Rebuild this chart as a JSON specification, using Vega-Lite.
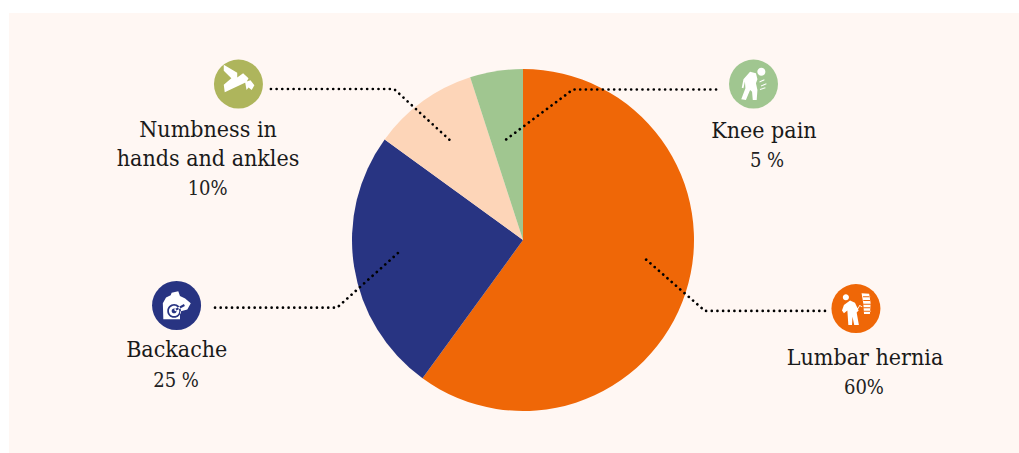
{
  "$schema": "https://vega.github.io/schema/vega-lite/v6.json",
  "width": 1019,
  "height": 453,
  "padding": 0,
  "autosize": {"type": "fit", "contains": "padding"},
  "background": "#FFFFFF",
  "config": {"view": {"stroke": null}, "axis": {"disable": true}},
  "datasets": {
    "slices": [
      {"condition": "Lumbar hernia", "share": 60, "rank": 1},
      {"condition": "Backache", "share": 25, "rank": 2},
      {"condition": "Numbness in hands and ankles", "share": 10, "rank": 3},
      {"condition": "Knee pain", "share": 5, "rank": 4}
    ],
    "callouts": [
      {"condition": "Lumbar hernia", "name": "Lumbar hernia", "shareText": "60%", "iconX": 1.947, "iconY": -0.401, "nameX": 2.0, "nameY": -0.731, "shareX": 1.994, "shareY": -0.901},
      {"condition": "Backache", "name": "Backache", "shareText": "25 %", "iconX": -2.026, "iconY": -0.383, "nameX": -2.025, "nameY": -0.684, "shareX": -2.029, "shareY": -0.86},
      {"condition": "Numbness in hands and ankles", "name": "Numbness in\nhands and ankles", "shareText": "10%", "iconX": -1.664, "iconY": 0.912, "nameX": -1.842, "nameY": 0.602, "shareX": -1.844, "shareY": 0.263},
      {"condition": "Knee pain", "name": "Knee pain", "shareText": "5 %", "iconX": 1.348, "iconY": 0.912, "nameX": 1.409, "nameY": 0.596, "shareX": 1.427, "shareY": 0.427}
    ],
    "leaders": [
      {"condition": "Numbness in hands and ankles", "step": 1, "x": -1.474, "y": 0.883},
      {"condition": "Numbness in hands and ankles", "step": 2, "x": -0.754, "y": 0.883},
      {"condition": "Numbness in hands and ankles", "step": 3, "x": -0.411, "y": 0.569},
      {"condition": "Knee pain", "step": 1, "x": 1.129, "y": 0.88},
      {"condition": "Knee pain", "step": 2, "x": 0.292, "y": 0.88},
      {"condition": "Knee pain", "step": 3, "x": -0.123, "y": 0.57},
      {"condition": "Backache", "step": 1, "x": -1.801, "y": -0.396},
      {"condition": "Backache", "step": 2, "x": -1.088, "y": -0.396},
      {"condition": "Backache", "step": 3, "x": -0.731, "y": -0.076},
      {"condition": "Lumbar hernia", "step": 1, "x": 1.766, "y": -0.415},
      {"condition": "Lumbar hernia", "step": 2, "x": 1.064, "y": -0.415},
      {"condition": "Lumbar hernia", "step": 3, "x": 0.709, "y": -0.105}
    ]
  },
  "layer": [
    {
      "description": "Tinted panel behind the chart; coordinates are in pie radii from the pie centre",
      "data": {"values": [{"left": -3.0058, "right": 2.9006, "top": 1.3275, "bottom": -1.2456}]},
      "mark": {"type": "rect", "fill": "#FFF7F3"},
      "encoding": {
        "x": {"field": "left", "type": "quantitative", "axis": null, "scale": {"domain": [-3.0585, 2.9006], "nice": false, "zero": false}},
        "x2": {"field": "right"},
        "y": {"field": "top", "type": "quantitative", "axis": null, "scale": {"domain": [-1.2456, 1.4035], "nice": false, "zero": false}},
        "y2": {"field": "bottom"}
      }
    },
    {
      "data": {"name": "slices"},
      "mark": {"type": "arc", "outerRadius": 171, "stroke": null},
      "encoding": {
        "x": {"datum": 0, "type": "quantitative"},
        "y": {"datum": 0, "type": "quantitative"},
        "theta": {"field": "share", "type": "quantitative", "stack": true},
        "order": {"field": "rank", "type": "ordinal"},
        "color": {
          "field": "condition",
          "type": "nominal",
          "legend": null,
          "scale": {
            "domain": ["Lumbar hernia", "Backache", "Numbness in hands and ankles", "Knee pain"],
            "range": ["#EF6707", "#283482", "#FDD5B8", "#A0C690"]
          }
        }
      }
    },
    {
      "description": "Dotted leader lines from each slice to its icon",
      "data": {"name": "leaders"},
      "mark": {"type": "line", "stroke": "#000000", "strokeWidth": 2.7, "strokeCap": "round", "strokeDash": [0.01, 5.65], "clip": false},
      "encoding": {
        "x": {"field": "x", "type": "quantitative"},
        "y": {"field": "y", "type": "quantitative"},
        "detail": {"field": "condition"},
        "order": {"field": "step", "type": "ordinal"}
      }
    },
    {
      "data": {"name": "callouts"},
      "mark": {"type": "point", "filled": true, "shape": "circle", "size": 2401, "opacity": 1},
      "encoding": {
        "x": {"field": "iconX", "type": "quantitative"},
        "y": {"field": "iconY", "type": "quantitative"},
        "fill": {
          "field": "condition",
          "type": "nominal",
          "legend": null,
          "scale": {
            "domain": ["Lumbar hernia", "Backache", "Numbness in hands and ankles", "Knee pain"],
            "range": ["#EF6707", "#283482", "#AEB55C", "#A0C690"]
          }
        }
      }
    },
    {
      "description": "White pictograms drawn in the unit square of each icon disc",
      "data": {"name": "callouts"},
      "mark": {"type": "point", "filled": true, "size": 2401, "opacity": 1, "fill": "#FFFFFF", "strokeWidth": 0},
      "encoding": {
        "x": {"field": "iconX", "type": "quantitative"},
        "y": {"field": "iconY", "type": "quantitative"},
        "shape": {
          "field": "condition",
          "type": "nominal",
          "legend": null,
          "scale": {
            "domain": ["Lumbar hernia", "Backache", "Numbness in hands and ankles", "Knee pain"],
            "range": [
              "M-.535,-.46A.125,.125 0 1 1 -.285,-.46A.125,.125 0 1 1 -.535,-.46ZM-.49,-.15L-.24,-.33L-.04,-.24L.11,.08L.03,.16L.12,.67L-.07,.67L-.14,.33L-.16,.67L-.31,.67L-.35,.08L-.49,.19L-.57,.08ZM.23,-.63L.54,-.6L.6,-.22L.57,.22L.33,.22L.3,-.22ZM.29,-.5L.29,-.46L.58,-.46L.58,-.5ZM.3,-.35L.3,-.31L.59,-.31L.59,-.35ZM.3,-.2L.3,-.16L.6,-.16L.6,-.2ZM.31,-.05L.31,-.01L.6,-.01L.6,-.05ZM.32,.09L.32,.13L.6,.13L.6,.09ZM.03,.05L.15,-.15L.26,-.08L.25,-.05L.16,-.1L.06,.07Z",
              "M-.2,-.52L.07,-.58L.14,-.39L.35,-.29L.58,-.09L.44,.16L.14,.25L.14,.56L-.54,.56L-.56,-.09L-.43,-.33L-.24,-.42ZM-.38,.22A.28,.28 0 1 0 .18,.22A.28,.28 0 1 0 -.38,.22ZM-.31,.22A.21,.21 0 1 1 .11,.22A.21,.21 0 1 1 -.31,.22ZM-.2,.22A.1,.1 0 1 0 0,.22A.1,.1 0 1 0 -.2,.22ZM-.1,.16L-.06,.24L.34,.02L.3,-.06Z",
              "M-.6,-.79L-.05,-.46L-.05,-.27L.19,-.44L.41,-.24L.33,-.08L-.56,.33L-.6,.03L-.29,-.24L-.6,-.54ZM.27,-.08L.49,-.16L.65,.05L.54,.24L.41,.14L.33,.24Z",
              "M.155,-.5A.165,.165 0 1 1 .485,-.5A.165,.165 0 1 1 .155,-.5ZM-.14,-.5L.1,-.44L.16,-.2L.1,-.03L.16,.24L.13,.65L-.03,.65L-.06,.31L-.14,.24L-.31,.65L-.5,.62L-.33,.17L-.35,-.1L-.41,.17L-.48,.15L-.41,-.2ZM.24,-.1L.44,-.2L.45,-.16L.25,-.06ZM.3,.06L.52,-.03L.53,.01L.31,.1ZM.26,.2L.48,.13L.49,.17L.27,.24Z"
            ]
          }
        }
      }
    },
    {
      "data": {"name": "callouts"},
      "mark": {"type": "text", "font": "DejaVu Serif Condensed", "fontSize": 23, "lineBreak": "\n", "lineHeight": 29, "align": "center", "baseline": "alphabetic", "fill": "#1A1A1A"},
      "encoding": {
        "x": {"field": "nameX", "type": "quantitative"},
        "y": {"field": "nameY", "type": "quantitative"},
        "text": {"field": "name"}
      }
    },
    {
      "data": {"name": "callouts"},
      "mark": {"type": "text", "font": "DejaVu Serif Condensed", "fontSize": 20, "align": "center", "baseline": "alphabetic", "fill": "#222222"},
      "encoding": {
        "x": {"field": "shareX", "type": "quantitative"},
        "y": {"field": "shareY", "type": "quantitative"},
        "text": {"field": "shareText"}
      }
    }
  ]
}
